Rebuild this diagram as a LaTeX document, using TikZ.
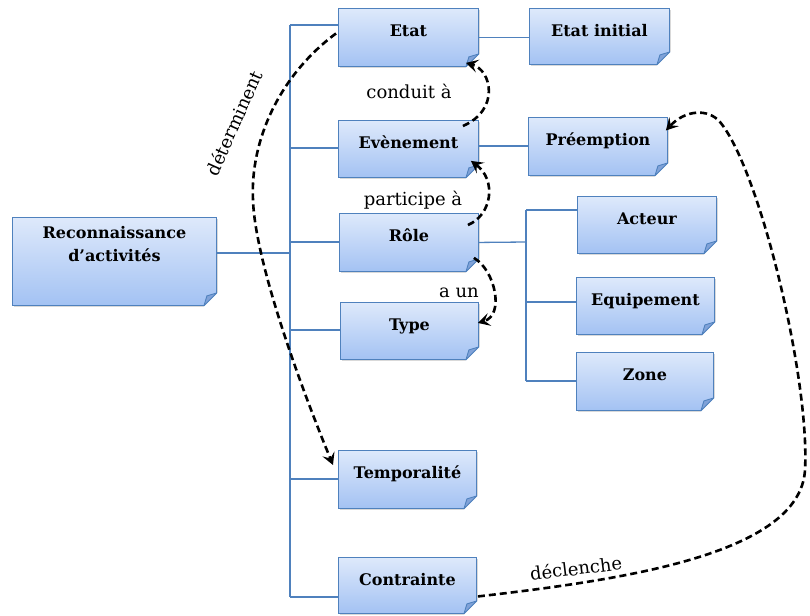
\documentclass[tikz,border=0pt]{standalone}
\usepackage{fontspec}
\setmainfont{DejaVu Serif}
\usetikzlibrary{shadows,arrows.meta,calc}
\definecolor{bord}{RGB}{79,129,189}
\definecolor{topc}{RGB}{222,233,251}
\definecolor{botc}{RGB}{163,194,243}
\definecolor{foldc}{RGB}{128,162,216}
\tikzset{
  box/.style={draw=bord, line width=0.9pt, top color=topc, bottom color=botc,
    anchor=north west, inner xsep=0pt, inner ysep=0pt,
    font=\fontsize{16}{19}\selectfont\bfseries, text height=28pt,
    drop shadow={shadow xshift=1.5pt, shadow yshift=-1.5pt, opacity=0.3}},
  conn/.style={draw=bord, line width=1.3pt},
  rel/.style={draw=black, line width=2.6pt, dash pattern=on 7pt off 4pt,
    -{Stealth[length=12pt,width=13pt,inset=5pt]}},
  lbl/.style={font=\fontsize{18}{21}\selectfont, inner sep=0pt},
}
\begin{document}
\begin{tikzpicture}[x=1pt,y=-1pt]
\useasboundingbox (0,0) rectangle (810,615);
% tree connectors
\coordinate (b0) at (290,253);
\coordinate (b1) at (290,25);
\coordinate (b2) at (290,148);
\coordinate (b3) at (290,242);
\coordinate (b4) at (290,330);
\coordinate (b5) at (290,479);
\coordinate (b6) at (290,597);
\coordinate (p0) at (478,146);
\coordinate (c0) at (526,242);
\coordinate (c1) at (526,210);
\coordinate (c2) at (526,302);
\coordinate (c3) at (526,381);
% boxes
\node[box, minimum width=204pt, minimum height=88pt, text height=21pt, text depth=67pt] (rec) at (12,217)
  {\begin{tabular}[t]{@{}c@{}}Reconnaissance\\[4pt]d’activités\end{tabular}};
\node[box, minimum width=140pt, minimum height=58pt, text depth=30pt] (etat) at (338,8) {Etat};
\node[box, minimum width=140pt, minimum height=56pt, text depth=28pt] (etatinit) at (529,8) {Etat initial};
\node[box, minimum width=140pt, minimum height=57pt, text depth=29pt] (even) at (338,120) {Evènement};
\node[box, minimum width=139pt, minimum height=58pt, text depth=30pt] (pree) at (528,117) {Préemption};
\node[box, minimum width=139pt, minimum height=58pt, text depth=30pt] (role) at (339,213) {Rôle};
\node[box, minimum width=138pt, minimum height=57pt, text depth=29pt] (type) at (340,302) {Type};
\node[box, minimum width=139pt, minimum height=57pt, text depth=29pt] (acteur) at (577,196) {Acteur};
\node[box, minimum width=138pt, minimum height=57pt, text depth=29pt] (equip) at (576,277) {Equipement};
\node[box, minimum width=137pt, minimum height=58pt, text depth=30pt] (zone) at (576,352) {Zone};
\node[box, minimum width=138pt, minimum height=58pt, text depth=30pt] (temp) at (338,450) {Temporalité};
\node[box, minimum width=138pt, minimum height=56pt, text depth=28pt] (contr) at (338,557) {Contrainte};
% folded corners
\foreach \n in {rec,etat,etatinit,even,pree,role,type,acteur,equip,zone,temp,contr}{
  \fill[white] ($(\n.south east)+(-13.5,0.9)$) -- ($(\n.south east)+(0.9,0.9)$) -- ($(\n.south east)+(0.9,-13.5)$) -- cycle;
  \filldraw[fill=foldc, draw=bord, line width=0.9pt, line join=round]
    ($(\n.south east)+(-13,0)$) -- ($(\n.south east)+(0,-13)$) -- ($(\n.south east)+(-10,-10)$) -- cycle;
}
\draw[conn] (b1) -- (b6);
\draw[conn] (b0 -| rec.east) -- (b0);
\draw[conn] (b1) -- (b1 -| etat.west);
\draw[conn] (b2) -- (b2 -| even.west);
\draw[conn] (b3) -- (b3 -| role.west);
\draw[conn] (b4) -- (b4 -| type.west);
\draw[conn] (b5) -- (b5 -| temp.west);
\draw[conn] (b6) -- (b6 -| contr.west);
\draw[conn] (etat.east) -- (etat.east -| etatinit.west);
\draw[conn] (p0) -- (p0 -| pree.west);
\draw[conn] (role.east) -- (c0);
\draw[conn] (c1) -- (c3);
\draw[conn] (c1) -- (c1 -| acteur.west);
\draw[conn] (c2) -- (c2 -| equip.west);
\draw[conn] (c3) -- (c3 -| zone.west);
% relations
\draw[rel] ($(etat.west)+(-2,-4)$) .. controls (280,75) and (250,140) .. (253,200)
  .. controls (255,260) and (298,380) .. ($(temp.north west)+(-5,15)$);
\draw[rel] ($(even.north east)+(-16,6)$) .. controls (500,110) and (492,70) .. ($(etat.south east)+(-13,-4)$);
\draw[rel] ($(role.north east)+(-11,12)$) .. controls (492,215) and (497,180) .. ($(even.south east)+(-8,-17)$);
\draw[rel] ($(role.south east)+(-5,-14)$) .. controls (495,270) and (505,315) .. ($(type.east)+(-1,-8)$);
\draw[rel] ($(contr.east)+(1,11)$) .. controls (620,580) and (800,555) .. (805,470)
  .. controls (810,380) and (760,170) .. (720,122)
  .. controls (708,108) and (685,110) .. ($(pree.east)+(-2,-16)$);
% labels
\node[lbl, anchor=base] (l1) at (409,99) {conduit à};
\node[lbl, anchor=base] (l2) at (413,205) {participe à};
\node[lbl, anchor=base] (l3) at (459,297) {a un};
\node[lbl, rotate=66] (l4) at (234,123) {déterminent};
\node[lbl, rotate=7] (l5) at (576,568) {déclenche};
\end{tikzpicture}
\end{document}
